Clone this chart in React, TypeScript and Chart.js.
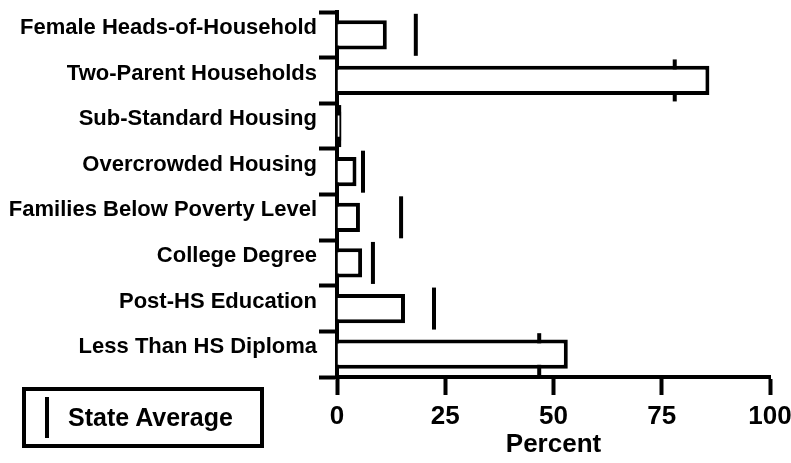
import React, { useEffect, useRef } from "react";
import { Chart, registerables } from "chart.js";

Chart.register(...registerables);

const categories = [
  "Female Heads-of-Household",
  "Two-Parent Households",
  "Sub-Standard Housing",
  "Overcrowded Housing",
  "Families Below Poverty Level",
  "College Degree",
  "Post-HS Education",
  "Less Than HS Diploma",
];
const areaValues = [11.5, 86, 1, 4.5, 5.3, 5.8, 15.7, 53.3];
const stateAverage = [18.2, 78, 0.5, 6, 14.8, 8.3, 22.4, 46.7];
const xTicks = [0, 25, 50, 75, 100];
const xTitle = "Percent";
const legendLabel = "State Average";

const MAIN_FONT = "'Liberation Sans', Arial, sans-serif";

export default function App() {
  const canvasRef = useRef<HTMLCanvasElement | null>(null);

  useEffect(() => {
    document.body.style.margin = "0";
    const canvas = canvasRef.current;
    if (!canvas) return;
    const chart = new Chart(canvas, {
      type: "bar",
      data: {
        labels: categories,
        datasets: [
          {
            type: "bar",
            label: "Area",
            data: areaValues,
            backgroundColor: "#ffffff",
            borderColor: "#000000",
            borderWidth: 4,
            borderSkipped: "start",
            categoryPercentage: 1,
            barPercentage: 0.64,
            order: 0,
          } as any,
          {
            type: "line",
            label: legendLabel,
            data: stateAverage,
            indexAxis: "y",
            showLine: false,
            pointStyle: "line",
            pointRotation: 90,
            pointRadius: 21,
            pointHoverRadius: 21,
            pointBorderWidth: 4,
            pointBorderColor: "#000000",
            pointBackgroundColor: "#000000",
            borderColor: "#000000",
            clip: false,
            order: 1,
          } as any,
        ],
      },
      options: {
        indexAxis: "y",
        animation: false,
        responsive: true,
        maintainAspectRatio: false,
        layout: { autoPadding: false, padding: { top: 12, right: 21, left: 0, bottom: 0 } },
        plugins: {
          legend: { display: false },
          tooltip: { enabled: false },
        },
        scales: {
          x: {
            type: "linear",
            min: 0,
            max: 100,
            afterBuildTicks: (scale: any) => {
              scale.ticks = xTicks.map((v) => ({ value: v }));
            },
            afterFit: (scale: any) => {
              scale.height = 86;
              scale.paddingLeft = 0;
              scale.paddingRight = 0;
            },
            border: { display: true, color: "#000000", width: 4 },
            grid: {
              drawOnChartArea: false,
              drawTicks: true,
              tickLength: 18,
              tickWidth: 4,
              tickColor: "#000000",
              color: "#000000",
            },
            ticks: {
              color: "#000000",
              padding: 6,
              font: { family: MAIN_FONT, size: 26, weight: "bold" },
            },
            title: {
              display: true,
              text: xTitle,
              color: "#000000",
              font: { family: MAIN_FONT, size: 26, weight: "bold" },
              padding: { top: 0, bottom: 3 },
            },
          },
          y: {
            type: "category",
            afterFit: (scale: any) => {
              scale.width = 337;
              scale.paddingTop = 0;
              scale.paddingBottom = 0;
            },
            border: { display: true, color: "#000000", width: 4 },
            grid: {
              offset: true,
              drawOnChartArea: false,
              drawTicks: true,
              tickLength: 18,
              tickWidth: 4,
              tickColor: "#000000",
              color: "#000000",
            },
            ticks: {
              color: "#000000",
              padding: 2,
              labelOffset: -7,
              autoSkip: false,
              font: { family: MAIN_FONT, size: 22, weight: "bold" },
            },
          },
        },
      } as any,
    });
    return () => chart.destroy();
  }, []);

  return (
    <div style={{ position: "relative", width: 791, height: 463, background: "#ffffff" }}>
      <canvas ref={canvasRef} />
      <div
        style={{
          position: "absolute",
          left: 22,
          top: 387,
          width: 242,
          height: 61,
          border: "4px solid #000000",
          boxSizing: "border-box",
          display: "flex",
          alignItems: "center",
          fontFamily: MAIN_FONT,
          fontWeight: "bold",
          fontSize: 25,
          color: "#000000",
        }}
      >
        <div
          style={{
            position: "absolute",
            left: 19,
            top: 6,
            width: 4,
            height: 41,
            background: "#000000",
          }}
        />
        <span style={{ marginLeft: 42, lineHeight: 1 }}>{legendLabel}</span>
      </div>
    </div>
  );
}
